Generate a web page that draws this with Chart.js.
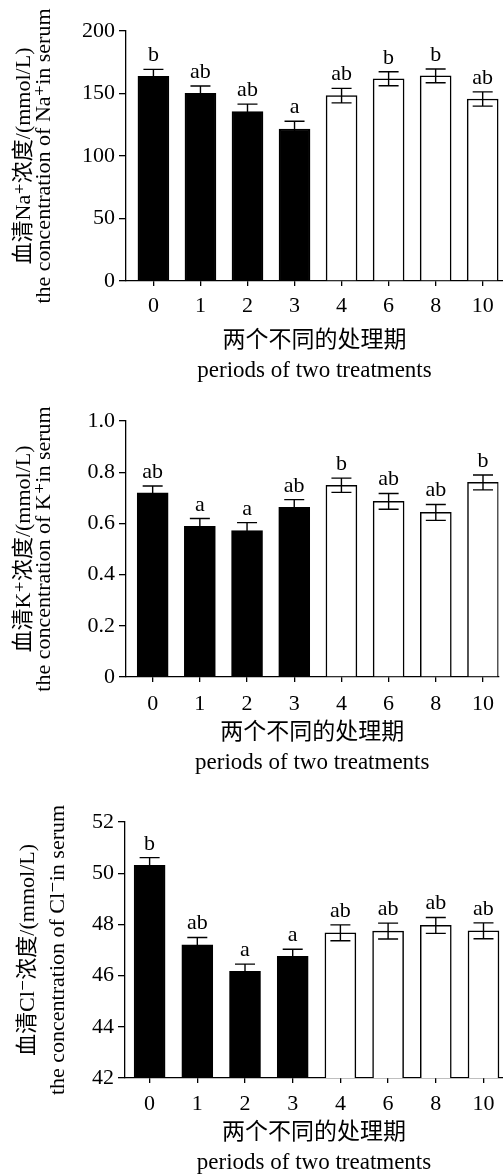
<!DOCTYPE html>
<html>
<head>
<meta charset="utf-8">
<script src="https://cdn.jsdelivr.net/npm/chart.js@4"></script>
<style>
  html, body { margin: 0; padding: 0; background: #fff; overflow: hidden; }
  canvas { position: absolute; left: 0; }
</style>
</head>
<body>
<canvas id="chartNa" width="503" height="390" style="top:0"></canvas>
<canvas id="chartK" width="503" height="390" style="top:390px"></canvas>
<canvas id="chartCl" width="503" height="400" style="top:780px"></canvas>
<script>
const periods = ['0', '1', '2', '3', '4', '6', '8', '10'];
const barFill = ['#000', '#000', '#000', '#000', '#fff', '#fff', '#fff', '#fff'];

const naMean = [163.8, 150.1, 135.6, 121.6, 148.3, 161.8, 164.1, 145.6];
const naErr = [5.5, 5.9, 5.9, 6.2, 5.8, 5.6, 5.5, 5.7];
const naLetters = ['b', 'ab', 'ab', 'a', 'ab', 'b', 'b', 'ab'];
const naTicks = [0, 50, 100, 150, 200];
const naTickLabels = ['0', '50', '100', '150', '200'];

const kMean = [0.719, 0.589, 0.572, 0.663, 0.749, 0.686, 0.643, 0.760];
const kErr = [0.027, 0.030, 0.031, 0.030, 0.028, 0.031, 0.031, 0.029];
const kLetters = ['ab', 'a', 'a', 'ab', 'b', 'ab', 'ab', 'b'];
const kTicks = [0, 0.2, 0.4, 0.6, 0.8, 1.0];
const kTickLabels = ['0', '0.2', '0.4', '0.6', '0.8', '1.0'];

const clMean = [50.31, 47.20, 46.17, 46.75, 47.67, 47.74, 47.96, 47.75];
const clErr = [0.30, 0.29, 0.28, 0.28, 0.31, 0.31, 0.31, 0.31];
const clLetters = ['b', 'ab', 'a', 'a', 'ab', 'ab', 'ab', 'ab'];
const clTicks = [42, 44, 46, 48, 50, 52];
const clTickLabels = ['42', '44', '46', '48', '50', '52'];

const xTitle = ['两个不同的处理期', 'periods of two treatments'];

const FONT = '"Liberation Serif", "DejaVu Serif", "Noto Sans CJK SC", serif';

function errorBars(means, errs, letters) {
  return {
    id: 'errorBars',
    afterDatasetsDraw(chart) {
      const { ctx, scales: { y } } = chart;
      const meta = chart.getDatasetMeta(0);
      ctx.save();
      ctx.strokeStyle = '#000';
      ctx.fillStyle = '#000';
      ctx.lineWidth = 1.4;
      ctx.font = '22px ' + FONT;
      ctx.textAlign = 'center';
      ctx.textBaseline = 'alphabetic';
      meta.data.forEach((bar, i) => {
        const top = y.getPixelForValue(means[i] + errs[i]);
        const bot = y.getPixelForValue(means[i] - errs[i]);
        const x = bar.x;
        ctx.beginPath();
        ctx.moveTo(x, bot); ctx.lineTo(x, top);
        ctx.moveTo(x - 10, top); ctx.lineTo(x + 10, top);
        ctx.moveTo(x - 10, bot); ctx.lineTo(x + 10, bot);
        ctx.stroke();
        ctx.fillText(letters[i], x, top - 8);
      });
      ctx.restore();
    }
  };
}

function makeChart(canvasId, c) {
  const el = document.getElementById(canvasId);
  return new Chart(el, {
    type: 'bar',
    data: {
      datasets: [{
        data: c.means.map((v, i) => ({ x: i, y: v })),
        backgroundColor: barFill,
        borderColor: '#000',
        borderWidth: 1.5,
        barThickness: 31
      }]
    },
    options: {
      responsive: false,
      animation: false,
      layout: { padding: { top: c.top, left: 0, right: 0, bottom: 0 } },
      plugins: { legend: { display: false }, tooltip: { enabled: false } },
      scales: {
        x: {
          type: 'linear',
          offset: false,
          min: c.xMin,
          max: c.xMax,
          afterBuildTicks: s => { s.ticks = periods.map((_, i) => ({ value: i })); },
          afterFit: s => { s.height = c.xHeight; },
          ticks: {
            callback: v => periods[v],
            color: '#000',
            font: { family: FONT, size: 22 },
            padding: c.xTickPad,
            maxRotation: 0,
            autoSkip: false
          },
          grid: { offset: false, drawOnChartArea: false, drawTicks: true, tickLength: 5, color: '#000', lineWidth: 1.3 },
          border: { display: true, color: '#000', width: 1.3 },
          title: {
            display: true,
            text: xTitle,
            color: '#000',
            font: { family: FONT, size: 23, lineHeight: '30px' },
            padding: { top: 0, bottom: c.xTitlePad }
          }
        },
        y: {
          min: c.ticks[0],
          max: c.ticks[c.ticks.length - 1],
          afterBuildTicks: s => { s.ticks = c.ticks.map(v => ({ value: v })); },
          afterFit: s => { s.width = c.yWidth; },
          ticks: {
            callback: (v, i) => c.tickLabels[i],
            color: '#000',
            font: { family: FONT, size: 22 },
            padding: 4
          },
          grid: { drawOnChartArea: false, drawTicks: true, tickLength: 7, color: '#000', lineWidth: 1.3 },
          border: { display: true, color: '#000', width: 1.3 },
          title: {
            display: true,
            text: c.yTitle,
            color: '#000',
            font: { family: FONT, size: 22, lineHeight: c.yLine },
            padding: { top: c.yTitlePad, bottom: 0 }
          }
        }
      }
    },
    plugins: [errorBars(c.means, c.errs, c.letters)]
  });
}

makeChart('chartNa', {
  means: naMean, errs: naErr, letters: naLetters,
  ticks: naTicks, tickLabels: naTickLabels,
  yTitle: ['血清Na⁺浓度/(mmol/L)', 'the concentration of Na⁺in serum'],
  top: 31, xHeight: 109, xTickPad: 7, xTitlePad: 4,
  yWidth: 126, yLine: '20px', yTitlePad: 14,
  xMin: -0.583, xMax: 7.432
});

makeChart('chartK', {
  means: kMean, errs: kErr, letters: kLetters,
  ticks: kTicks, tickLabels: kTickLabels,
  yTitle: ['血清K⁺浓度/(mmol/L)', 'the concentration of K⁺in serum'],
  top: 31, xHeight: 103, xTickPad: 9, xTitlePad: 2,
  yWidth: 126, yLine: '20px', yTitlePad: 14,
  xMin: -0.565, xMax: 7.328
});

makeChart('chartCl', {
  means: clMean, errs: clErr, letters: clLetters,
  ticks: clTicks, tickLabels: clTickLabels,
  yTitle: ['血清Cl⁻浓度/(mmol/L)', 'the concentration of Cl⁻in serum'],
  top: 42, xHeight: 102, xTickPad: 8, xTitlePad: 2,
  yWidth: 125, yLine: '30px', yTitlePad: 13,
  xMin: -0.516, xMax: 7.409
});
</script>
</body>
</html>
